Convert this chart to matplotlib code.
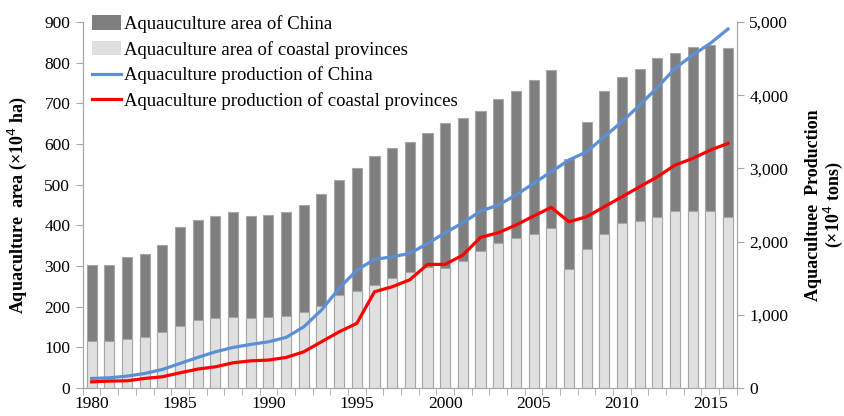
import numpy as np
import matplotlib.pyplot as plt
from matplotlib.ticker import FuncFormatter, FixedLocator
from matplotlib.patches import Patch
from matplotlib.lines import Line2D

plt.rcParams['font.family'] = ['Liberation Serif', 'DejaVu Serif']

years = list(range(1980, 2017))
# aquaculture area (x10^4 ha)
area_china = [302, 302, 323, 330, 352, 395, 413, 423, 433, 423, 425, 433, 450, 477,
              512, 540, 570, 590, 606, 628, 652, 665, 682, 712, 730, 757, 782, 563,
              655, 730, 765, 785, 811, 824, 838, 843, 835]
area_coastal = [115, 115, 120, 125, 137, 153, 168, 172, 175, 172, 175, 178, 186, 202,
                230, 238, 253, 270, 285, 298, 295, 313, 338, 358, 368, 378, 393, 294,
                343, 380, 405, 411, 420, 436, 436, 436, 420]
# aquaculture production (x10^4 tons)
prod_china = [132, 141, 164, 200, 255, 337, 419, 496, 556, 597, 633, 693, 837, 1066,
              1362, 1612, 1758, 1794, 1840, 1976, 2122, 2258, 2418, 2500, 2637, 2796,
              2955, 3115, 3228, 3433, 3638, 3866, 4105, 4367, 4549, 4709, 4905]
prod_coastal = [86, 96, 100, 132, 155, 209, 260, 291, 346, 373, 383, 419, 496, 633,
                769, 884, 1316, 1384, 1480, 1690, 1690, 1817, 2059, 2122, 2227, 2350,
                2469, 2272, 2340, 2477, 2613, 2750, 2886, 3046, 3137, 3251, 3343]

x = np.arange(len(years))
edge = '#a6a6a6'
dark, light = '#7f7f7f', '#e0e0e0'
blue, red = '#5b8fd8', '#ff0000'

fig = plt.figure(figsize=(8.45, 4.16), dpi=100)
ax = fig.add_axes([0.098, 0.067, 0.774, 0.88])

ax.bar(x, area_china, width=0.57, color=dark, edgecolor=edge, linewidth=0.8, zorder=2)
ax.bar(x, area_coastal, width=0.57, color=light, edgecolor=edge, linewidth=0.8, zorder=3)

ax.set_xlim(-0.5, len(years) - 0.5)
ax.set_ylim(0, 900)
ax.set_yticks(range(0, 901, 100))
ax.set_ylabel('Aquaculture  area (×10$^4$ ha)', fontsize=13, fontweight='bold', labelpad=11)

# year labels every 5 years, tick marks between the bars
label_idx = [i for i, y in enumerate(years) if y % 5 == 0]
ax.set_xticks(label_idx)
ax.set_xticklabels([str(years[i]) for i in label_idx])
ax.tick_params(axis='x', which='major', length=0, pad=6)
ax.xaxis.set_minor_locator(FixedLocator(np.arange(-0.5, len(years), 1.0)))
ax.tick_params(axis='x', which='minor', length=5, color=edge, direction='out')
ax.tick_params(axis='y', length=5, color=edge, direction='out', pad=4)
ax.tick_params(labelsize=12.5)

ax.spines['top'].set_visible(False)
for s in ['left', 'bottom', 'right']:
    ax.spines[s].set_color(edge)

ax2 = ax.twinx()
ax2.plot(x, prod_china, color=blue, linewidth=2.3, zorder=4)
ax2.plot(x, prod_coastal, color=red, linewidth=2.3, zorder=5)
ax2.set_ylim(0, 5000)
ax2.set_yticks(range(0, 5001, 1000))
ax2.yaxis.set_major_formatter(FuncFormatter(lambda v, p: f'{int(v):,}'))
ax2.tick_params(axis='y', length=5, color=edge, direction='out', labelsize=12.5, pad=4)
ax2.spines['top'].set_visible(False)
for s in ['left', 'bottom', 'right']:
    ax2.spines[s].set_color(edge)
ax2.set_ylabel('Aquacultuee  Production\n(×10$^4$ tons)', fontsize=13, fontweight='bold',
               labelpad=12, linespacing=1.0)

handles = [Patch(facecolor=dark, edgecolor='none'),
           Patch(facecolor=light, edgecolor='none'),
           Line2D([], [], color=blue, linewidth=2.3),
           Line2D([], [], color=red, linewidth=2.3)]
labels = ['Aquauculture area of China',
          'Aquaculture area of coastal provinces',
          'Aquaculture production of China',
          'Aquaculture production of coastal provinces']
leg = ax2.legend(handles, labels, loc='upper left', bbox_to_anchor=(-0.006, 1.055),
                 frameon=False, fontsize=13.5, handlelength=1.55, handleheight=0.8,
                 handletextpad=0.15, labelspacing=0.42, borderaxespad=0.3)

fig.savefig('out.png', dpi=100)
